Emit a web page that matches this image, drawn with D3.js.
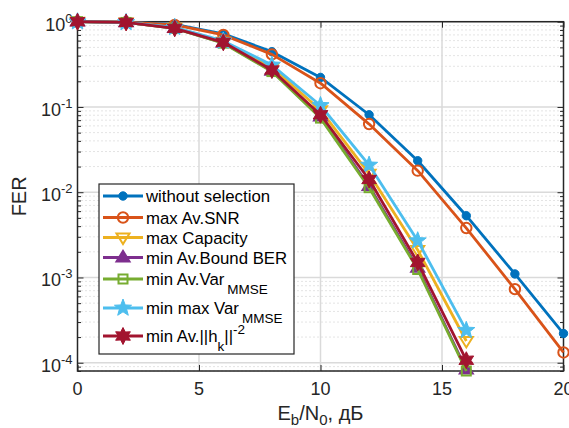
<!DOCTYPE html>
<html>
<head>
<meta charset="utf-8">
<script src="https://cdn.jsdelivr.net/npm/d3@7"></script>
<style>
  html, body { margin: 0; padding: 0; background: #fff; }
  svg { display: block; font-family: "Liberation Sans", Arial, Helvetica, sans-serif; }
</style>
</head>
<body>
<svg id="chart" width="569" height="428"></svg>
<script>
// Eb/N0 grid, dB
const snrFull = [0, 2, 4, 6, 8, 10, 12, 14, 16, 18, 20];
const snrShort = [0, 2, 4, 6, 8, 10, 12, 14, 16];

// Frame error rate per antenna-selection rule
const ferNoSelection = [1.0, 0.985, 0.93, 0.72, 0.445, 0.222, 0.081, 0.0234, 0.0053, 0.0011, 0.00022];
const ferMaxSnr      = [1.0, 0.985, 0.915, 0.70, 0.414, 0.19, 0.063, 0.0179, 0.0038, 0.00073, 0.000132];
const ferMaxCapacity = [1.0, 0.98, 0.85, 0.585, 0.29, 0.092, 0.0165, 0.0021, 0.00018];
const ferMinBoundBer = [1.0, 0.98, 0.84, 0.565, 0.265, 0.077, 0.0118, 0.0013, 0.000083];
const ferMinAvVar    = [1.0, 0.98, 0.835, 0.56, 0.26, 0.074, 0.0113, 0.00124, 0.00008];
const ferMinMaxVar   = [1.0, 0.98, 0.86, 0.595, 0.31, 0.104, 0.0208, 0.0027, 0.00024];
const ferMinNormInv  = [1.0, 0.98, 0.836, 0.573, 0.271, 0.081, 0.0141, 0.0015, 0.000107];

const xTicks = [0, 5, 10, 15, 20];
const yTickExps = [0, -1, -2, -3, -4];

const series = [
  { name: "without selection", x: snrFull,  y: ferNoSelection, color: "#0072BD", marker: "dot" },
  { name: "max Av.SNR",        x: snrFull,  y: ferMaxSnr,      color: "#D95319", marker: "circle" },
  { name: "max Capacity",      x: snrShort, y: ferMaxCapacity, color: "#EDB120", marker: "tridown" },
  { name: "min Av.Bound BER",  x: snrShort, y: ferMinBoundBer, color: "#7E2F8E", marker: "triup" },
  { name: "min Av.Var",        x: snrShort, y: ferMinAvVar,    color: "#77AC30", marker: "square", sub: "MMSE" },
  { name: "min max Var",       x: snrShort, y: ferMinMaxVar,   color: "#4DBEEE", marker: "star5", sub: "MMSE" },
  { name: "min Av.||h",        x: snrShort, y: ferMinNormInv,  color: "#A2142F", marker: "star6", sub: "k", tail: "||", sup: "-2" }
];

const svg = d3.select("#chart");
const plotL = 77.5, plotR = 563.5, plotT = 21.7, plotB = 371;

const x = d3.scaleLinear().domain([0, 20]).range([plotL, plotR]);
const y = d3.scaleLog().domain([8e-5, 1]).range([plotB, plotT]);

// minor grid (dotted) for every 2..9 within each decade
const minorVals = [];
for (let e = -5; e < 0; e++) {
  for (let m = 2; m <= 9; m++) {
    const v = m * Math.pow(10, e);
    if (v >= 8e-5 && v < 1) minorVals.push(v);
  }
}
const grid = svg.append("g");
grid.selectAll("line.minor").data(minorVals).join("line")
  .attr("x1", plotL).attr("x2", plotR)
  .attr("y1", d => y(d)).attr("y2", d => y(d))
  .attr("stroke", "#c8c8c8").attr("stroke-width", 1)
  .attr("stroke-dasharray", "1,3");
grid.selectAll("line.hmajor").data(yTickExps.map(e => Math.pow(10, e))).join("line")
  .attr("x1", plotL).attr("x2", plotR)
  .attr("y1", d => y(d)).attr("y2", d => y(d))
  .attr("stroke", "#dadada").attr("stroke-width", 1.5);
grid.selectAll("line.vmajor").data(xTicks.slice(1, -1)).join("line")
  .attr("x1", d => x(d)).attr("x2", d => x(d))
  .attr("y1", plotT).attr("y2", plotB)
  .attr("stroke", "#dadada").attr("stroke-width", 1.5);

// axes with inward ticks on all four sides
const axisColor = "#262626";
const majorY = yTickExps.map(e => Math.pow(10, e));
function styleAxis(g) {
  g.select(".domain").remove();
  g.selectAll(".tick line").attr("stroke", axisColor).attr("stroke-width", 1);
  g.selectAll(".tick text").remove();
}
svg.append("g").attr("transform", `translate(${plotL},0)`)
  .call(d3.axisLeft(y).tickValues(majorY).tickSize(-6)).call(styleAxis);
svg.append("g").attr("transform", `translate(${plotL},0)`)
  .call(d3.axisLeft(y).tickValues(minorVals).tickSize(-3.5)).call(styleAxis);
svg.append("g").attr("transform", `translate(${plotR},0)`)
  .call(d3.axisRight(y).tickValues(majorY).tickSize(-6)).call(styleAxis);
svg.append("g").attr("transform", `translate(${plotR},0)`)
  .call(d3.axisRight(y).tickValues(minorVals).tickSize(-3.5)).call(styleAxis);
svg.append("g").attr("transform", `translate(0,${plotB})`)
  .call(d3.axisBottom(x).tickValues(xTicks).tickSize(-6)).call(styleAxis);
svg.append("g").attr("transform", `translate(0,${plotT})`)
  .call(d3.axisTop(x).tickValues(xTicks).tickSize(-6)).call(styleAxis);

svg.append("rect")
  .attr("x", plotL).attr("y", plotT)
  .attr("width", plotR - plotL).attr("height", plotB - plotT)
  .attr("fill", "none").attr("stroke", axisColor).attr("stroke-width", 1.5);

// tick labels
const textColor = "#262626";
svg.append("g").selectAll("text").data(xTicks).join("text")
  .attr("x", d => x(d)).attr("y", plotB + 24)
  .attr("text-anchor", "middle").attr("font-size", 18).attr("fill", textColor)
  .text(d => d);

const yl = svg.append("g").selectAll("text").data(yTickExps).join("text")
  .attr("x", plotL - 5).attr("y", d => y(Math.pow(10, d)) + 9)
  .attr("text-anchor", "end").attr("font-size", 18).attr("fill", textColor);
yl.append("tspan").text("10");
yl.append("tspan").attr("font-size", 13).attr("dy", -8).text(d => d === 0 ? "0" : "-" + (-d));

// axis titles
svg.append("text")
  .attr("transform", `translate(26,${(plotT + plotB) / 2}) rotate(-90)`)
  .attr("text-anchor", "middle").attr("font-size", 20).attr("fill", textColor)
  .text("FER");

const xt = svg.append("text")
  .attr("x", (plotL + plotR) / 2).attr("y", 420)
  .attr("text-anchor", "middle").attr("font-size", 20).attr("fill", textColor);
xt.append("tspan").text("E");
xt.append("tspan").attr("font-size", 15).attr("dy", 5).text("b");
xt.append("tspan").attr("dy", -5).text("/N");
xt.append("tspan").attr("font-size", 15).attr("dy", 5).text("0");
xt.append("tspan").attr("dy", -5).text(", дБ");

// marker shapes
function drawMarker(g, type, color, cx, cy) {
  const sw = 2;
  if (type === "dot") {
    g.append("circle").attr("cx", cx).attr("cy", cy).attr("r", 4.2)
      .attr("fill", color).attr("stroke", color).attr("stroke-width", 1);
  } else if (type === "circle") {
    g.append("circle").attr("cx", cx).attr("cy", cy).attr("r", 5.2)
      .attr("fill", "none").attr("stroke", color).attr("stroke-width", sw);
  } else if (type === "tridown") {
    const s = 6.5;
    g.append("path").attr("d", `M${cx - s},${cy - s * 0.6}L${cx + s},${cy - s * 0.6}L${cx},${cy + s}Z`)
      .attr("fill", "none").attr("stroke", color).attr("stroke-width", sw);
  } else if (type === "triup") {
    const s = 6.5;
    g.append("path").attr("d", `M${cx - s},${cy + s * 0.6}L${cx + s},${cy + s * 0.6}L${cx},${cy - s}Z`)
      .attr("fill", color).attr("stroke", color).attr("stroke-width", sw);
  } else if (type === "square") {
    const s = 4.5;
    g.append("rect").attr("x", cx - s).attr("y", cy - s).attr("width", 2 * s).attr("height", 2 * s)
      .attr("fill", "none").attr("stroke", color).attr("stroke-width", sw);
  } else if (type === "star5" || type === "star6") {
    const n = type === "star5" ? 5 : 6;
    const ro = type === "star5" ? 9 : 8.5, ri = type === "star5" ? 3.8 : 4.6;
    const pts = [];
    for (let i = 0; i < 2 * n; i++) {
      const a = -Math.PI / 2 + i * Math.PI / n;
      const r = i % 2 === 0 ? ro : ri;
      pts.push([cx + r * Math.cos(a), cy + r * Math.sin(a)]);
    }
    g.append("path").attr("d", "M" + pts.map(p => p.join(",")).join("L") + "Z")
      .attr("fill", color).attr("stroke", color).attr("stroke-width", 1).attr("stroke-linejoin", "miter");
  }
}

// curves: each series draws its line and then its markers
const line = d3.line().x(d => x(d[0])).y(d => y(d[1]));
series.forEach(s => {
  const g = svg.append("g");
  const pts = s.x.map((v, i) => [v, s.y[i]]);
  g.append("path").datum(pts).attr("d", line)
    .attr("fill", "none").attr("stroke", s.color).attr("stroke-width", 2.8)
    .attr("stroke-linejoin", "round");
  pts.forEach(p => drawMarker(g, s.marker, s.color, x(p[0]), y(p[1])));
});

// legend
const lg = svg.append("g");
lg.append("rect").attr("x", 99).attr("y", 184).attr("width", 195).attr("height", 170)
  .attr("fill", "#fff").attr("stroke", "#262626").attr("stroke-width", 1.2);
const rowY = [196, 217.5, 237.5, 257.5, 279, 308, 336];
series.forEach((s, i) => {
  const ry = rowY[i];
  lg.append("line").attr("x1", 103).attr("x2", 143).attr("y1", ry).attr("y2", ry)
    .attr("stroke", s.color).attr("stroke-width", 2.8);
  drawMarker(lg, s.marker, s.color, 123, ry);
  const t = lg.append("text").attr("x", 146).attr("y", ry + 6)
    .attr("font-size", 16.8).attr("fill", "#000");
  t.append("tspan").text(s.name);
  if (s.sub) {
    t.append("tspan").attr("font-size", 13.5).attr("dy", 9).attr("dx", s.name.endsWith("h") ? 0 : 3).text(s.sub);
  }
  if (s.tail) {
    t.append("tspan").attr("dy", -9).text(s.tail);
  }
  if (s.sup) {
    t.append("tspan").attr("font-size", 13.5).attr("dy", -8).text(s.sup);
  }
});
</script>
</body>
</html>
